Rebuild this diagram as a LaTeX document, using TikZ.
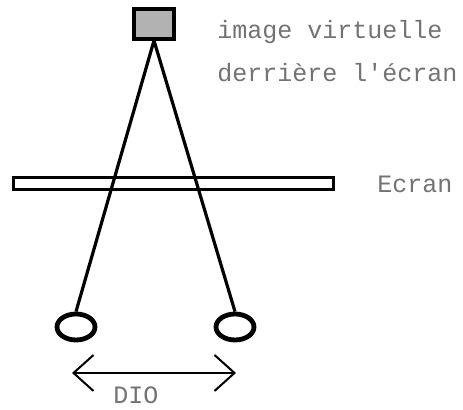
\documentclass[tikz,border=0pt]{standalone}
\usepackage{fontspec}
\setmonofont{Liberation Mono}
\usetikzlibrary{arrows.meta, shapes.geometric, positioning}

\begin{document}
\begin{tikzpicture}[x=0.5pt, y=-0.5pt,
        label text/.style={font=\ttfamily\fontsize{12.5}{15}\selectfont, text=black!55, anchor=west, inner sep=0pt},
        ray/.style={line width=1.6pt},
        eye/.style={ellipse, draw, line width=2.4pt, minimum width=19pt, minimum height=13pt, inner sep=0pt}]
                        \useasboundingbox (0, 0) rectangle (463, 410);

                        \node[draw, line width=1.6pt, fill=black!30, minimum width=20pt, minimum height=15pt, inner sep=0pt] (img) at (154, 24) {};
                        \node[draw, line width=1.1pt, minimum width=160pt, minimum height=6pt, inner sep=0pt] (screen) at (173.5, 183.5) {};
                        \node[eye] (eyeL) at (76, 327) {};
                        \node[eye] (eyeR) at (235, 327) {};

                        \node[label text] (virt) at (217, 32) {image virtuelle};
                        \node[label text] (behind) at (217, 73) {derrière l'écran};
                        \node[label text] (ecran) at (377, 184) {Ecran};
                        \node[label text, anchor=center] (dio) at (136, 395) {DIO};

                        \coordinate (dioL) at (72, 373);
                        \coordinate (dioR) at (236, 373);

                        \draw[ray]
                        (img.south) -- (eyeL.north)
                        (img.south) -- (eyeR.north);
                        \draw[line width=1pt, {Straight Barb[length=10pt, width=18pt]}-{Straight Barb[length=10pt, width=18pt]}] (dioL) -- (dioR);
                    \end{tikzpicture}
\end{document}
